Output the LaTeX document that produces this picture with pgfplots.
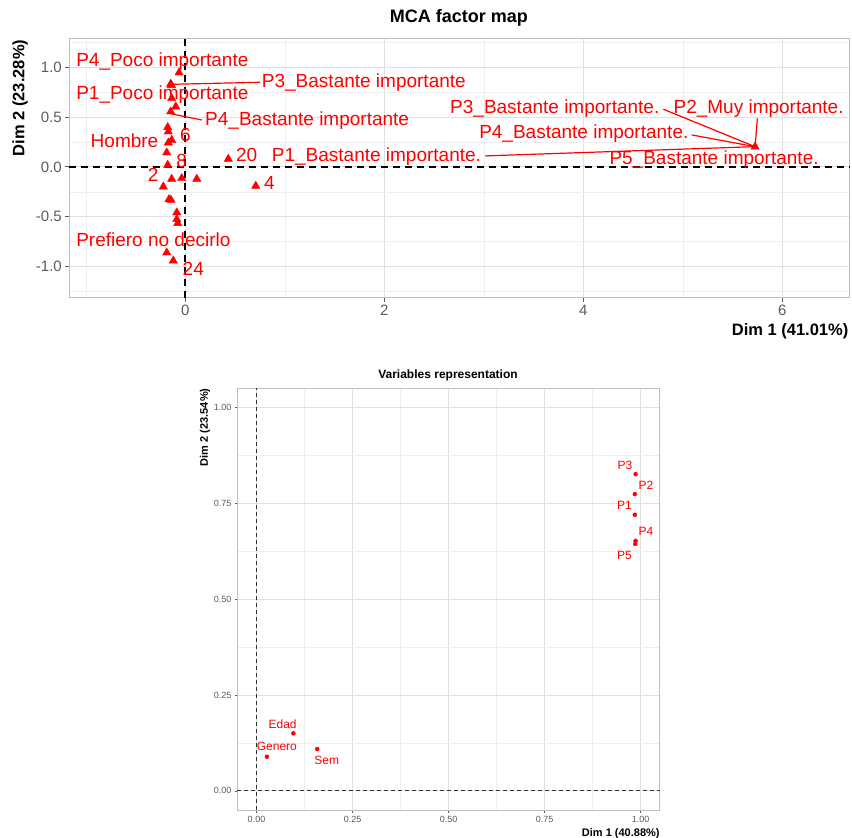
\documentclass[border=0pt]{standalone}
\usepackage{fontspec}
\setmainfont{Liberation Sans}
\usepackage{pgfplots}
\pgfplotsset{compat=1.18}
\definecolor{tickgray}{RGB}{90,90,90}
\definecolor{bordergray}{RGB}{190,190,190}
\definecolor{gridmaj}{RGB}{224,224,224}
\definecolor{gridmin}{RGB}{238,238,238}
\tikzset{
 lbl/.style={font=\fontsize{19}{19}\selectfont, text=red, inner sep=0pt, anchor=west},
 vl/.style={font=\fontsize{12}{12}\selectfont, text=red, inner sep=0pt, anchor=center},
}
\pgfplotstableread{
x y
-0.063 0.948
-0.147 0.834
-0.140 0.822
-0.137 0.690
-0.096 0.606
-0.147 0.556
-0.177 0.399
-0.171 0.355
-0.137 0.271
-0.171 0.244
-0.187 0.144
-0.177 0.020
-0.137 -0.121
-0.036 -0.114
0.115 -0.121
-0.221 -0.198
-0.164 -0.325
-0.144 -0.332
-0.086 -0.459
-0.086 -0.526
-0.076 -0.566
-0.187 -0.861
-0.121 -0.942
0.432 0.080
0.708 -0.191
5.726 0.204
}\indpoints
\pgfplotstableread{
x y
0.096 0.150
0.027 0.089
0.158 0.109
0.987 0.826
0.985 0.774
0.985 0.720
0.987 0.652
0.986 0.644
}\varpoints
\begin{document}
\begin{tikzpicture}
\path[use as bounding box] (0,0) rectangle (852pt,-838pt);
% ---------------- top: MCA factor map ----------------
\begin{axis}[
 at={(69.3pt,-297.5pt)}, anchor=south west, scale only axis,
 width=780.2pt, height=259.2pt,
 xmin=-1.166, xmax=6.675, ymin=-1.312, ymax=1.293,
 xtick={0,2,4,6}, ytick={-1,-0.5,0,0.5,1},
 minor xtick={-1,1,3,5}, minor ytick={-1.25,-0.75,-0.25,0.25,0.75,1.25},
 grid=both,
 major grid style={gridmaj, line width=1pt},
 minor grid style={gridmin, line width=0.6pt},
 axis line style={bordergray, line width=1.4pt},
 major tick style={tickgray, line width=1pt},
 major tick length=4pt, minor tick length=0pt,
 tick align=outside, xtick pos=lower, ytick pos=left,
 yticklabel style={/pgf/number format/fixed, /pgf/number format/fixed zerofill, /pgf/number format/precision=1},
 /pgf/number format/assume math mode=true,
 ticklabel style={font=\fontsize{15}{15}\selectfont, text=tickgray},
 clip=false,
]
\addplot[black, line width=1.7pt, dash pattern=on 7pt off 5pt] coordinates {(-1.166,0) (6.675,0)};
\addplot[black, line width=1.7pt, dash pattern=on 7pt off 5pt] coordinates {(0,-1.312) (0,1.293)};
\addplot[red, line width=1.2pt] coordinates {(-0.121,0.831) (0.751,0.851)};
\addplot[red, line width=1.2pt] coordinates {(-0.137,0.533) (0.165,0.472)};
\addplot[red, line width=1.2pt] coordinates {(3.012,0.111) (5.726,0.204)};
\addplot[red, line width=1.2pt] coordinates {(4.804,0.580) (5.726,0.204)};
\addplot[red, line width=1.2pt] coordinates {(5.089,0.322) (5.726,0.204)};
\addplot[red, line width=1.2pt] coordinates {(5.749,0.489) (5.726,0.204)};
\addplot[only marks, mark=triangle*, mark size=4.8pt, red] table {\indpoints};
\node[lbl] at (axis cs:-1.098,1.058) {P4\_Poco importante};
\node[lbl] at (axis cs:0.768,0.847) {P3\_Bastante importante};
\node[lbl] at (axis cs:-1.098,0.724) {P1\_Poco importante};
\node[lbl] at (axis cs:0.198,0.462) {P4\_Bastante importante};
\node[lbl, anchor=center] at (axis cs:-0.611,0.264) {Hombre};
\node[lbl, anchor=center] at (axis cs:0.0,0.322) {6};
\node[lbl, anchor=center] at (axis cs:-0.036,0.063) {8};
\node[lbl, anchor=center] at (axis cs:-0.322,-0.08) {2};
\node[lbl, anchor=center] at (axis cs:0.617,0.121) {20};
\node[lbl, anchor=center] at (axis cs:0.844,-0.164) {4};
\node[lbl] at (axis cs:-1.098,-0.734) {Prefiero no decirlo};
\node[lbl, anchor=center] at (axis cs:0.080,-1.028) {24};
\node[lbl] at (axis cs:0.868,0.104) {P1\_Bastante importante.};
\node[lbl] at (axis cs:2.660,0.590) {P3\_Bastante importante.};
\node[lbl] at (axis cs:4.905,0.590) {P2\_Muy importante.};
\node[lbl] at (axis cs:2.952,0.339) {P4\_Bastante importante.};
\node[lbl] at (axis cs:4.261,0.070) {P5\_Bastante importante.};
\end{axis}
\node[font=\fontsize{18}{18}\selectfont\bfseries] at (459pt,-18.3pt) {MCA factor map};
\node[font=\fontsize{16.5}{16.5}\selectfont\bfseries, anchor=east, inner sep=0pt] at (848.5pt,-331.7pt) {Dim 1 (41.01\%)};
\node[font=\fontsize{16.5}{16.5}\selectfont\bfseries, rotate=90, anchor=east, inner sep=0pt] at (20pt,-39.5pt) {Dim 2 (23.28\%)};
% ---------------- bottom: Variables representation ----------------
\begin{axis}[
 at={(237.3pt,-810pt)}, anchor=south west, scale only axis,
 width=422.5pt, height=421.7pt,
 xmin=-0.05, xmax=1.05, ymin=-0.05, ymax=1.05,
 xtick={0,0.25,0.5,0.75,1}, ytick={0,0.25,0.5,0.75,1},
 minor xtick={0.125,0.375,0.625,0.875}, minor ytick={0.125,0.375,0.625,0.875},
 grid=both,
 major grid style={gridmaj, line width=0.7pt},
 minor grid style={gridmin, line width=0.4pt},
 axis line style={bordergray, line width=1pt},
 major tick style={tickgray, line width=0.6pt},
 major tick length=2.5pt, minor tick length=0pt,
 tick align=outside, xtick pos=lower, ytick pos=left,
 xticklabel style={/pgf/number format/fixed, /pgf/number format/fixed zerofill, /pgf/number format/precision=2},
 yticklabel style={/pgf/number format/fixed, /pgf/number format/fixed zerofill, /pgf/number format/precision=2},
 /pgf/number format/assume math mode=true,
 ticklabel style={font=\fontsize{9}{9}\selectfont, text=tickgray},
 clip=false,
]
\addplot[black!80, line width=1pt, dash pattern=on 4pt off 3pt] coordinates {(-0.05,0) (1.05,0)};
\addplot[black!80, line width=1pt, dash pattern=on 4pt off 3pt] coordinates {(0,-0.05) (0,1.05)};
\addplot[only marks, mark=*, mark size=2pt, red] table {\varpoints};
\node[vl] at (axis cs:0.959,0.850) {P3};
\node[vl] at (axis cs:1.014,0.797) {P2};
\node[vl] at (axis cs:0.958,0.744) {P1};
\node[vl] at (axis cs:1.014,0.676) {P4};
\node[vl] at (axis cs:0.958,0.613) {P5};
\node[vl] at (axis cs:0.068,0.174) {Edad};
\node[vl] at (axis cs:0.053,0.115) {Genero};
\node[vl] at (axis cs:0.183,0.080) {Sem};
\end{axis}
\node[font=\fontsize{12}{12}\selectfont\bfseries] at (448pt,-375.7pt) {Variables representation};
\node[font=\fontsize{11}{11}\selectfont\bfseries, anchor=east, inner sep=0pt] at (659.8pt,-834pt) {Dim 1 (40.88\%)};
\node[font=\fontsize{11}{11}\selectfont\bfseries, rotate=90, anchor=east, inner sep=0pt] at (205pt,-388.3pt) {Dim 2 (23.54\%)};
\end{tikzpicture}
\end{document}
